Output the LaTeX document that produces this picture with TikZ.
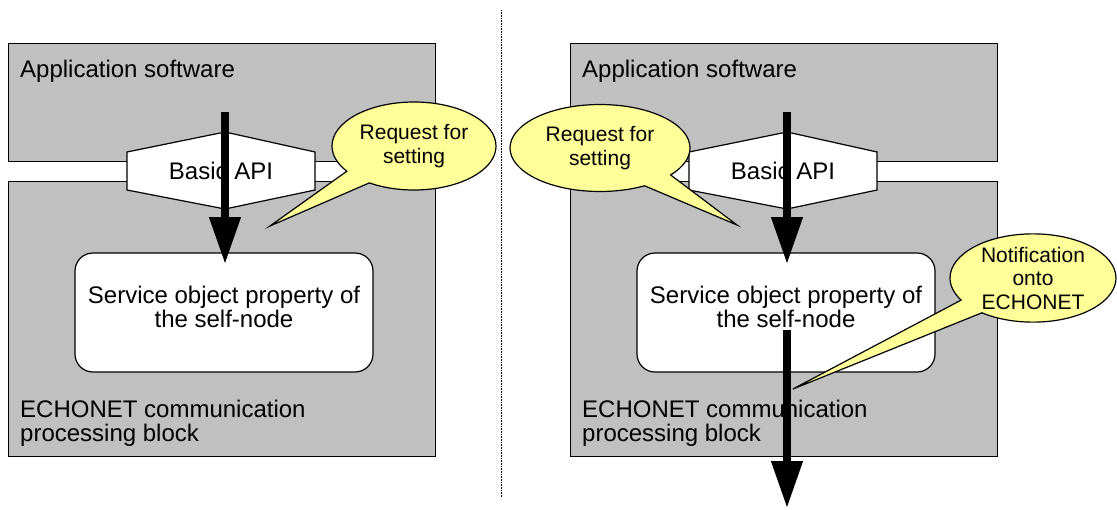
\documentclass[tikz,border=0pt]{standalone}
\usepackage{fontspec}
\setmainfont{Liberation Sans}
\usetikzlibrary{arrows.meta,shapes.callouts}
\definecolor{boxgray}{HTML}{C0C0C0}
\definecolor{calloutyellow}{HTML}{FFFF99}
\tikzset{
  layerbox/.style={draw, fill=boxgray, line width=1.2pt, minimum width=427pt, inner sep=0pt, anchor=north west},
  svcbox/.style={draw, fill=white, line width=1.2pt, rounded corners=18pt, minimum width=298pt, minimum height=119pt, inner sep=0pt},
  hexbox/.style={draw, fill=white, line width=1.2pt, line join=miter},
  bigtext/.style={font=\fontsize{24}{23.5}\selectfont, inner sep=0pt},
  smalltext/.style={font=\fontsize{21}{23.5}\selectfont},
  bubble/.style={ellipse callout, draw, fill=calloutyellow, line width=1.2pt, callout pointer arc=22, align=center, inner sep=0pt, smalltext},
  bigarrow/.style={line width=7.5pt, -{Triangle[width=30pt,length=47pt]}},
  divider/.style={line width=0.8pt, dash pattern=on 0.8pt off 0.8pt}
}
\begin{document}
\begin{tikzpicture}[x=1pt,y=-1pt]
\useasboundingbox (0,0) rectangle (1117,509);
% divider
\coordinate (dTop) at (501,10);
\coordinate (dBot) at (501,497);
\draw[divider] (dTop) -- (dBot);

% ---------- left panel ----------
\node[layerbox, minimum height=118pt] (appL) at (8,43) {};
\node[layerbox, minimum height=275pt] (echoL) at (8,181) {};
\node[bigtext, anchor=base west] (appLt) at (20,77) {Application software};
\node[bigtext, anchor=north west, align=left] (echoLt) at (20,400) {ECHONET communication\\processing block};
\draw[hexbox] (127,152) -- (225,132) -- (315,152) -- (315,190) -- (225,209) -- (127,190) -- cycle;
\node[bigtext] (apiL) at (221,171) {Basic API};
\node[svcbox] (svcL) at (224,312.5) {};
\node[bigtext, align=center] (svcLt) at (224,307) {Service object property of\\the self-node};
\coordinate (aStartL) at (225,112);
\coordinate (aTipL) at (225,264);
\draw[bigarrow] (aStartL) -- (aTipL);
\coordinate (tipReqL) at (270,226);
\node[bubble, minimum width=164pt, minimum height=88pt, callout absolute pointer={(tipReqL)}] (reqL) at (414,146) {Request for\\setting};

% ---------- right panel ----------
\node[layerbox, minimum height=118pt] (appR) at (570,43) {};
\node[layerbox, minimum height=275pt] (echoR) at (570,181) {};
\node[bigtext, anchor=base west] (appRt) at (582,77) {Application software};
\node[bigtext, anchor=north west, align=left] (echoRt) at (582,400) {ECHONET communication\\processing block};
\draw[hexbox] (689,152) -- (787,132) -- (877,152) -- (877,190) -- (787,209) -- (689,190) -- cycle;
\node[bigtext] (apiR) at (783,171) {Basic API};
\node[svcbox] (svcR) at (786,312.5) {};
\node[bigtext, align=center] (svcRt) at (786,307) {Service object property of\\the self-node};
\coordinate (aStartR) at (787,112);
\coordinate (aTipR) at (787,264);
\draw[bigarrow] (aStartR) -- (aTipR);
\coordinate (bStartR) at (787,330);
\coordinate (bTipR) at (787,508);
\draw[bigarrow] (bStartR) -- (bTipR);
\coordinate (tipReqR) at (737,225);
\node[bubble, minimum width=180pt, minimum height=87pt, callout absolute pointer={(tipReqR)}] (reqR) at (600,148) {Request for\\setting};
\coordinate (tipNote) at (793,389);
\node[bubble, minimum width=166pt, minimum height=88pt, callout absolute pointer={(tipNote)}] (note) at (1033,278) {Notification\\onto\\ECHONET};
\end{tikzpicture}
\end{document}
